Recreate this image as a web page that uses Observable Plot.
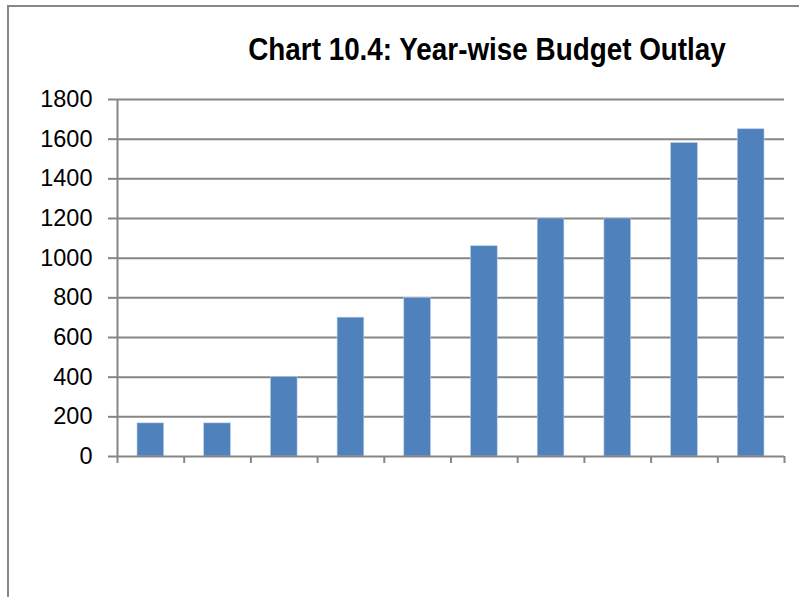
<!DOCTYPE html>
<html>
<head>
<meta charset="utf-8">
<script src="https://cdn.jsdelivr.net/npm/d3@7"></script>
<script src="https://cdn.jsdelivr.net/npm/@observablehq/plot@0.6"></script>
<style>
  html, body { margin: 0; padding: 0; background: #fff; }
  #wrap { position: relative; width: 799px; height: 597px; overflow: hidden; }
  #frame { position: absolute; left: 7px; top: 5px; width: 820px; height: 620px;
           border: 2.5px solid #888; box-sizing: border-box; }
  #title { position: absolute; left: 487px; top: 33px; transform: translateX(-50%) scaleX(0.87);
           white-space: nowrap; font-family: "Liberation Sans", Arial, sans-serif;
           font-weight: bold; font-size: 32px; color: #000; line-height: 1; }
  #chart { position: absolute; left: 0; top: 0; }
</style>
</head>
<body>
<div id="wrap">
  <div id="frame"></div>
  <div id="chart"></div>
  <div id="title">Chart 10.4: Year-wise Budget Outlay</div>
</div>
<script>
const categories = ["Year 1","Year 2","Year 3","Year 4","Year 5","Year 6","Year 7","Year 8","Year 9","Year 10"];
const values = [167, 167, 400, 700, 800, 1060, 1200, 1200, 1580, 1650];
const yTicks = [0, 200, 400, 600, 800, 1000, 1200, 1400, 1600, 1800];

const data = categories.map((c, i) => ({category: c, index: i, value: values[i]}));
const boundaries = d3.range(categories.length + 1);
const grid = "#868686";

const chart = Plot.plot({
  width: 799,
  height: 597,
  marginLeft: 117,
  marginRight: 15,
  marginTop: 99,
  marginBottom: 141,
  style: {fontFamily: "'Liberation Sans', Arial, sans-serif", fontSize: "23px", color: "#000", background: "transparent"},
  x: {type: "linear", domain: [0, categories.length], axis: null},
  y: {domain: [0, 1800], axis: null},
  marks: [
    Plot.ruleY(yTicks.filter(d => d > 0), {stroke: grid, strokeWidth: 2}),
    Plot.rectY(data, {x1: d => d.index + 0.3, x2: d => d.index + 0.7, y: "value", fill: "#4F81BD", stroke: "#B9CDE5", strokeWidth: 0.6}),
    Plot.ruleX([0], {stroke: grid, strokeWidth: 2}),
    Plot.ruleY([0], {stroke: grid, strokeWidth: 2}),
    Plot.axisY({ticks: yTicks, tickSize: 9, tickPadding: 16, label: null, tickFormat: d => String(d), stroke: grid, strokeWidth: 2, fill: "#000", fontSize: 23.5}),
    Plot.axisX({ticks: boundaries, tickSize: 7, label: null, tickFormat: () => "", stroke: grid, strokeWidth: 2})
  ]
});
document.getElementById("chart").appendChild(chart);
</script>
</body>
</html>
